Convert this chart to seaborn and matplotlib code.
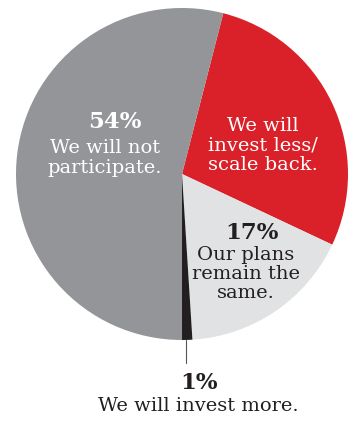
import matplotlib
matplotlib.use("Agg")
import matplotlib.pyplot as plt
import seaborn as sns

# Survey responses, drawn clockwise from the red slice
labels = ["We will invest less/\nscale back.", "Our plans\nremain the\nsame.",
          "We will invest more.", "We will not\nparticipate."]
shares = [28, 17, 1, 54]
colors = ["#da2129", "#e1e2e3", "#231f20", "#939598"]

sns.set_theme(style="white")
plt.rcParams["font.family"] = ["DejaVu Serif", "DejaVu Sans"]

W, H = 357, 421
fig = plt.figure(figsize=(W / 100, H / 100), dpi=100)
ax = fig.add_axes([0, 0, 1, 1])

cx, cy, r = 182, H - 174, 166
# the "invest more" sliver ends pointing straight down
start = 270 + 360 * sum(shares[:3]) / 100
ax.pie(shares, colors=colors, startangle=start, counterclock=False,
       center=(cx, cy), radius=r, frame=True,
       wedgeprops=dict(linewidth=0))
ax.set_xlim(0, W)
ax.set_ylim(0, H)
ax.set_aspect("equal")
ax.axis("off")

dark = "#231f20"
body = 14
pct = 16.5


def line(x, y, s, color, size=body, bold=False):
    ax.text(x, H - y, s, ha="center", va="center", color=color,
            fontsize=size, fontweight="bold" if bold else "normal")


# 54% slice
line(115, 122, f"{shares[3]}%", "white", pct, True)
line(105, 148, "We will not", "white")
line(105, 168, "participate.", "white")

# 28% slice
line(263, 126, "We will", "white")
line(263, 146, "invest less/", "white")
line(263, 165, "scale back.", "white")

# 17% slice
line(252, 233, f"{shares[1]}%", dark, pct, True)
line(246, 255, "Our plans", dark)
line(246, 274, "remain the", dark)
line(246, 293, "same.", dark)

# 1% slice with leader
ax.plot([185.5, 185.5], [H - 340, H - 363], color="#555555", lw=0.8)
line(199, 383, f"{shares[2]}%", dark, pct, True)
line(198, 406, "We will invest more.", dark)

fig.savefig("out.png", dpi=100)
